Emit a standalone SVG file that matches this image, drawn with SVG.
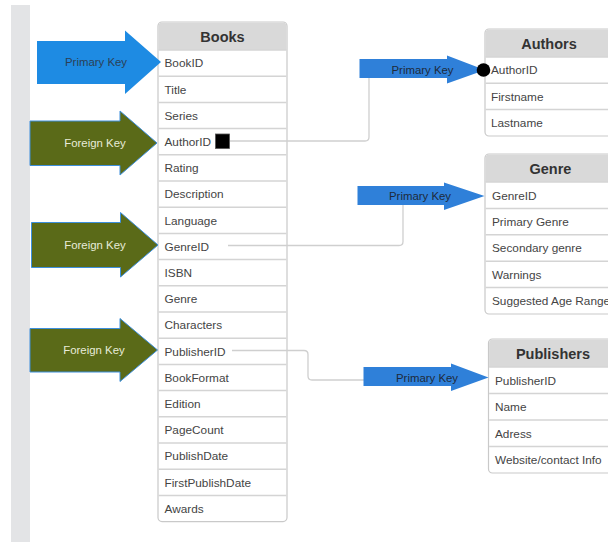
<svg xmlns="http://www.w3.org/2000/svg" width="608" height="542" viewBox="0 0 608 542">
<style>
.tbl{fill:#fff;stroke:#c9c9c9;stroke-width:1.2}
.hdr{fill:#d9d9d9}
.sep{stroke:#d4d4d4;stroke-width:1.5}
.ht{font-family:"Liberation Sans",Arial,sans-serif;font-size:14.5px;font-weight:bold;fill:#333;text-anchor:middle}
.rt{font-family:"Liberation Sans",Arial,sans-serif;font-size:11.8px;fill:#444}
.pk{fill:#1e8be3}
.pk2{fill:#2f80d9}
.fk{fill:#5a6a18;stroke:#3d8fdc;stroke-width:1}
.kt{font-family:"Liberation Sans",Arial,sans-serif;font-size:11.4px;text-anchor:middle}
.con{fill:none;stroke:#cfcfcf;stroke-width:1.3}
</style>
<rect x="0" y="0" width="608" height="542" fill="#fff"/>
<rect x="11" y="5" width="19" height="537" fill="#e3e4e6"/>

<g id="books">
<rect class="tbl" x="158" y="22" width="129" height="499.6" rx="4"/>
<path class="hdr" d="M158.6,50 V26 Q158.6,22.6 162.6,22.6 H282.4 Q286.4,22.6 286.4,26 V50 Z"/>
<text class="ht" x="222.5" y="42">Books</text>
<g class="sep">
<line x1="158.6" y1="50" x2="286.4" y2="50"/>
<line x1="158.6" y1="76.2" x2="286.4" y2="76.2"/>
<line x1="158.6" y1="102.4" x2="286.4" y2="102.4"/>
<line x1="158.6" y1="128.6" x2="286.4" y2="128.6"/>
<line x1="158.6" y1="154.8" x2="286.4" y2="154.8"/>
<line x1="158.6" y1="181" x2="286.4" y2="181"/>
<line x1="158.6" y1="207.2" x2="286.4" y2="207.2"/>
<line x1="158.6" y1="233.4" x2="286.4" y2="233.4"/>
<line x1="158.6" y1="259.6" x2="286.4" y2="259.6"/>
<line x1="158.6" y1="285.8" x2="286.4" y2="285.8"/>
<line x1="158.6" y1="312" x2="286.4" y2="312"/>
<line x1="158.6" y1="338.2" x2="286.4" y2="338.2"/>
<line x1="158.6" y1="364.4" x2="286.4" y2="364.4"/>
<line x1="158.6" y1="390.6" x2="286.4" y2="390.6"/>
<line x1="158.6" y1="416.8" x2="286.4" y2="416.8"/>
<line x1="158.6" y1="443" x2="286.4" y2="443"/>
<line x1="158.6" y1="469.2" x2="286.4" y2="469.2"/>
<line x1="158.6" y1="495.4" x2="286.4" y2="495.4"/>
</g>
<text class="rt" x="164.5" y="67.4">BookID</text>
<text class="rt" x="164.5" y="93.6">Title</text>
<text class="rt" x="164.5" y="119.8">Series</text>
<text class="rt" x="164.5" y="146">AuthorID</text>
<text class="rt" x="164.5" y="172.2">Rating</text>
<text class="rt" x="164.5" y="198.4">Description</text>
<text class="rt" x="164.5" y="224.6">Language</text>
<text class="rt" x="164.5" y="250.8">GenreID</text>
<text class="rt" x="164.5" y="277">ISBN</text>
<text class="rt" x="164.5" y="303.2">Genre</text>
<text class="rt" x="164.5" y="329.4">Characters</text>
<text class="rt" x="164.5" y="355.6">PublisherID</text>
<text class="rt" x="164.5" y="381.8">BookFormat</text>
<text class="rt" x="164.5" y="408">Edition</text>
<text class="rt" x="164.5" y="434.2">PageCount</text>
<text class="rt" x="164.5" y="460.4">PublishDate</text>
<text class="rt" x="164.5" y="486.6">FirstPublishDate</text>
<text class="rt" x="164.5" y="512.8">Awards</text>
</g>

<g id="authors">
<rect class="tbl" x="485" y="29" width="130" height="107" rx="4"/>
<path class="hdr" d="M485.6,57 V33 Q485.6,29.6 489.6,29.6 H614 V57 Z"/>
<text class="ht" x="549" y="49">Authors</text>
<g class="sep">
<line x1="485.6" y1="57" x2="614" y2="57"/>
<line x1="485.6" y1="83.3" x2="614" y2="83.3"/>
<line x1="485.6" y1="109.6" x2="614" y2="109.6"/>
</g>
<text class="rt" x="491" y="74.4">AuthorID</text>
<text class="rt" x="491" y="100.7">Firstname</text>
<text class="rt" x="491" y="127">Lastname</text>
</g>

<g id="genre">
<rect class="tbl" x="485" y="154" width="130" height="160" rx="4"/>
<path class="hdr" d="M485.6,182 V158 Q485.6,154.6 489.6,154.6 H614 V182 Z"/>
<text class="ht" x="550.5" y="174">Genre</text>
<g class="sep">
<line x1="485.6" y1="182" x2="614" y2="182"/>
<line x1="485.6" y1="208.4" x2="614" y2="208.4"/>
<line x1="485.6" y1="234.8" x2="614" y2="234.8"/>
<line x1="485.6" y1="261.2" x2="614" y2="261.2"/>
<line x1="485.6" y1="287.6" x2="614" y2="287.6"/>
</g>
<text class="rt" x="492" y="199.5">GenreID</text>
<text class="rt" x="492" y="225.9">Primary Genre</text>
<text class="rt" x="492" y="252.3">Secondary genre</text>
<text class="rt" x="492" y="278.7">Warnings</text>
<text class="rt" x="492" y="305.1">Suggested Age Range</text>
</g>

<g id="publishers">
<rect class="tbl" x="488.5" y="339" width="130" height="134" rx="4"/>
<path class="hdr" d="M489.1,367 V343 Q489.1,339.6 493.1,339.6 H617 V367 Z"/>
<text class="ht" x="553" y="359">Publishers</text>
<g class="sep">
<line x1="489.1" y1="367" x2="617" y2="367"/>
<line x1="489.1" y1="393.5" x2="617" y2="393.5"/>
<line x1="489.1" y1="420" x2="617" y2="420"/>
<line x1="489.1" y1="446.5" x2="617" y2="446.5"/>
</g>
<text class="rt" x="495" y="384.6">PublisherID</text>
<text class="rt" x="495" y="411.1">Name</text>
<text class="rt" x="495" y="437.6">Adress</text>
<text class="rt" x="495" y="464.1">Website/contact Info</text>
</g>

<g id="connectors">
<path class="con" d="M230,141 H365 Q369,141 369,137 V78"/>
<path class="con" d="M228,245.5 H399 Q403,245.5 403,241.5 V205"/>
<path class="con" d="M232,350.5 H304 Q308,350.5 308,354.5 V376 Q308,380 312,380 H364"/>
<rect x="215.5" y="134" width="14" height="14.5" fill="#000" stroke="#555" stroke-width="0.8"/>
</g>

<g id="pk-books">
<polygon class="pk" points="37,41 125,41 125,30.5 161,62 125,94 125,84 37,84"/>
<text class="kt" x="96" y="66" fill="#2b3f55">Primary Key</text>
</g>
<g id="fk-author">
<polygon class="fk" points="30,121 120,121 120,111 157,143 120,175 120,165.5 30,165.5"/>
<text class="kt" x="95" y="147" fill="#e8ecd8">Foreign Key</text>
</g>
<g id="fk-genre">
<polygon class="fk" points="31.5,222.5 120.5,222.5 120.5,212.5 158,245 120.5,277 120.5,267.5 31.5,267.5"/>
<text class="kt" x="95" y="249" fill="#e8ecd8">Foreign Key</text>
</g>
<g id="fk-publisher">
<polygon class="fk" points="30,328.5 120,328.5 120,318.5 157.5,350 120,381.5 120,372 30,372"/>
<text class="kt" x="94" y="354" fill="#e8ecd8">Foreign Key</text>
</g>

<g id="pk-authors">
<polygon class="pk2" points="359.5,59 447,59 447,55.5 485,70 447,83.5 447,78 359.5,78"/>
<text class="kt" x="422.5" y="74" fill="#1e2a3a">Primary Key</text>
<circle cx="483.5" cy="70" r="6.8" fill="#000"/>
</g>
<g id="pk-genre">
<polygon class="pk2" points="357.5,186 444,186 444,182.5 484.5,196 444,210 444,205 357.5,205"/>
<text class="kt" x="420" y="200" fill="#1e2a3a">Primary Key</text>
</g>
<g id="pk-publishers">
<polygon class="pk2" points="363.5,367 451,367 451,363.5 488.5,377.5 451,391 451,386 363.5,386"/>
<text class="kt" x="427" y="381.5" fill="#1e2a3a">Primary Key</text>
</g>
</svg>
